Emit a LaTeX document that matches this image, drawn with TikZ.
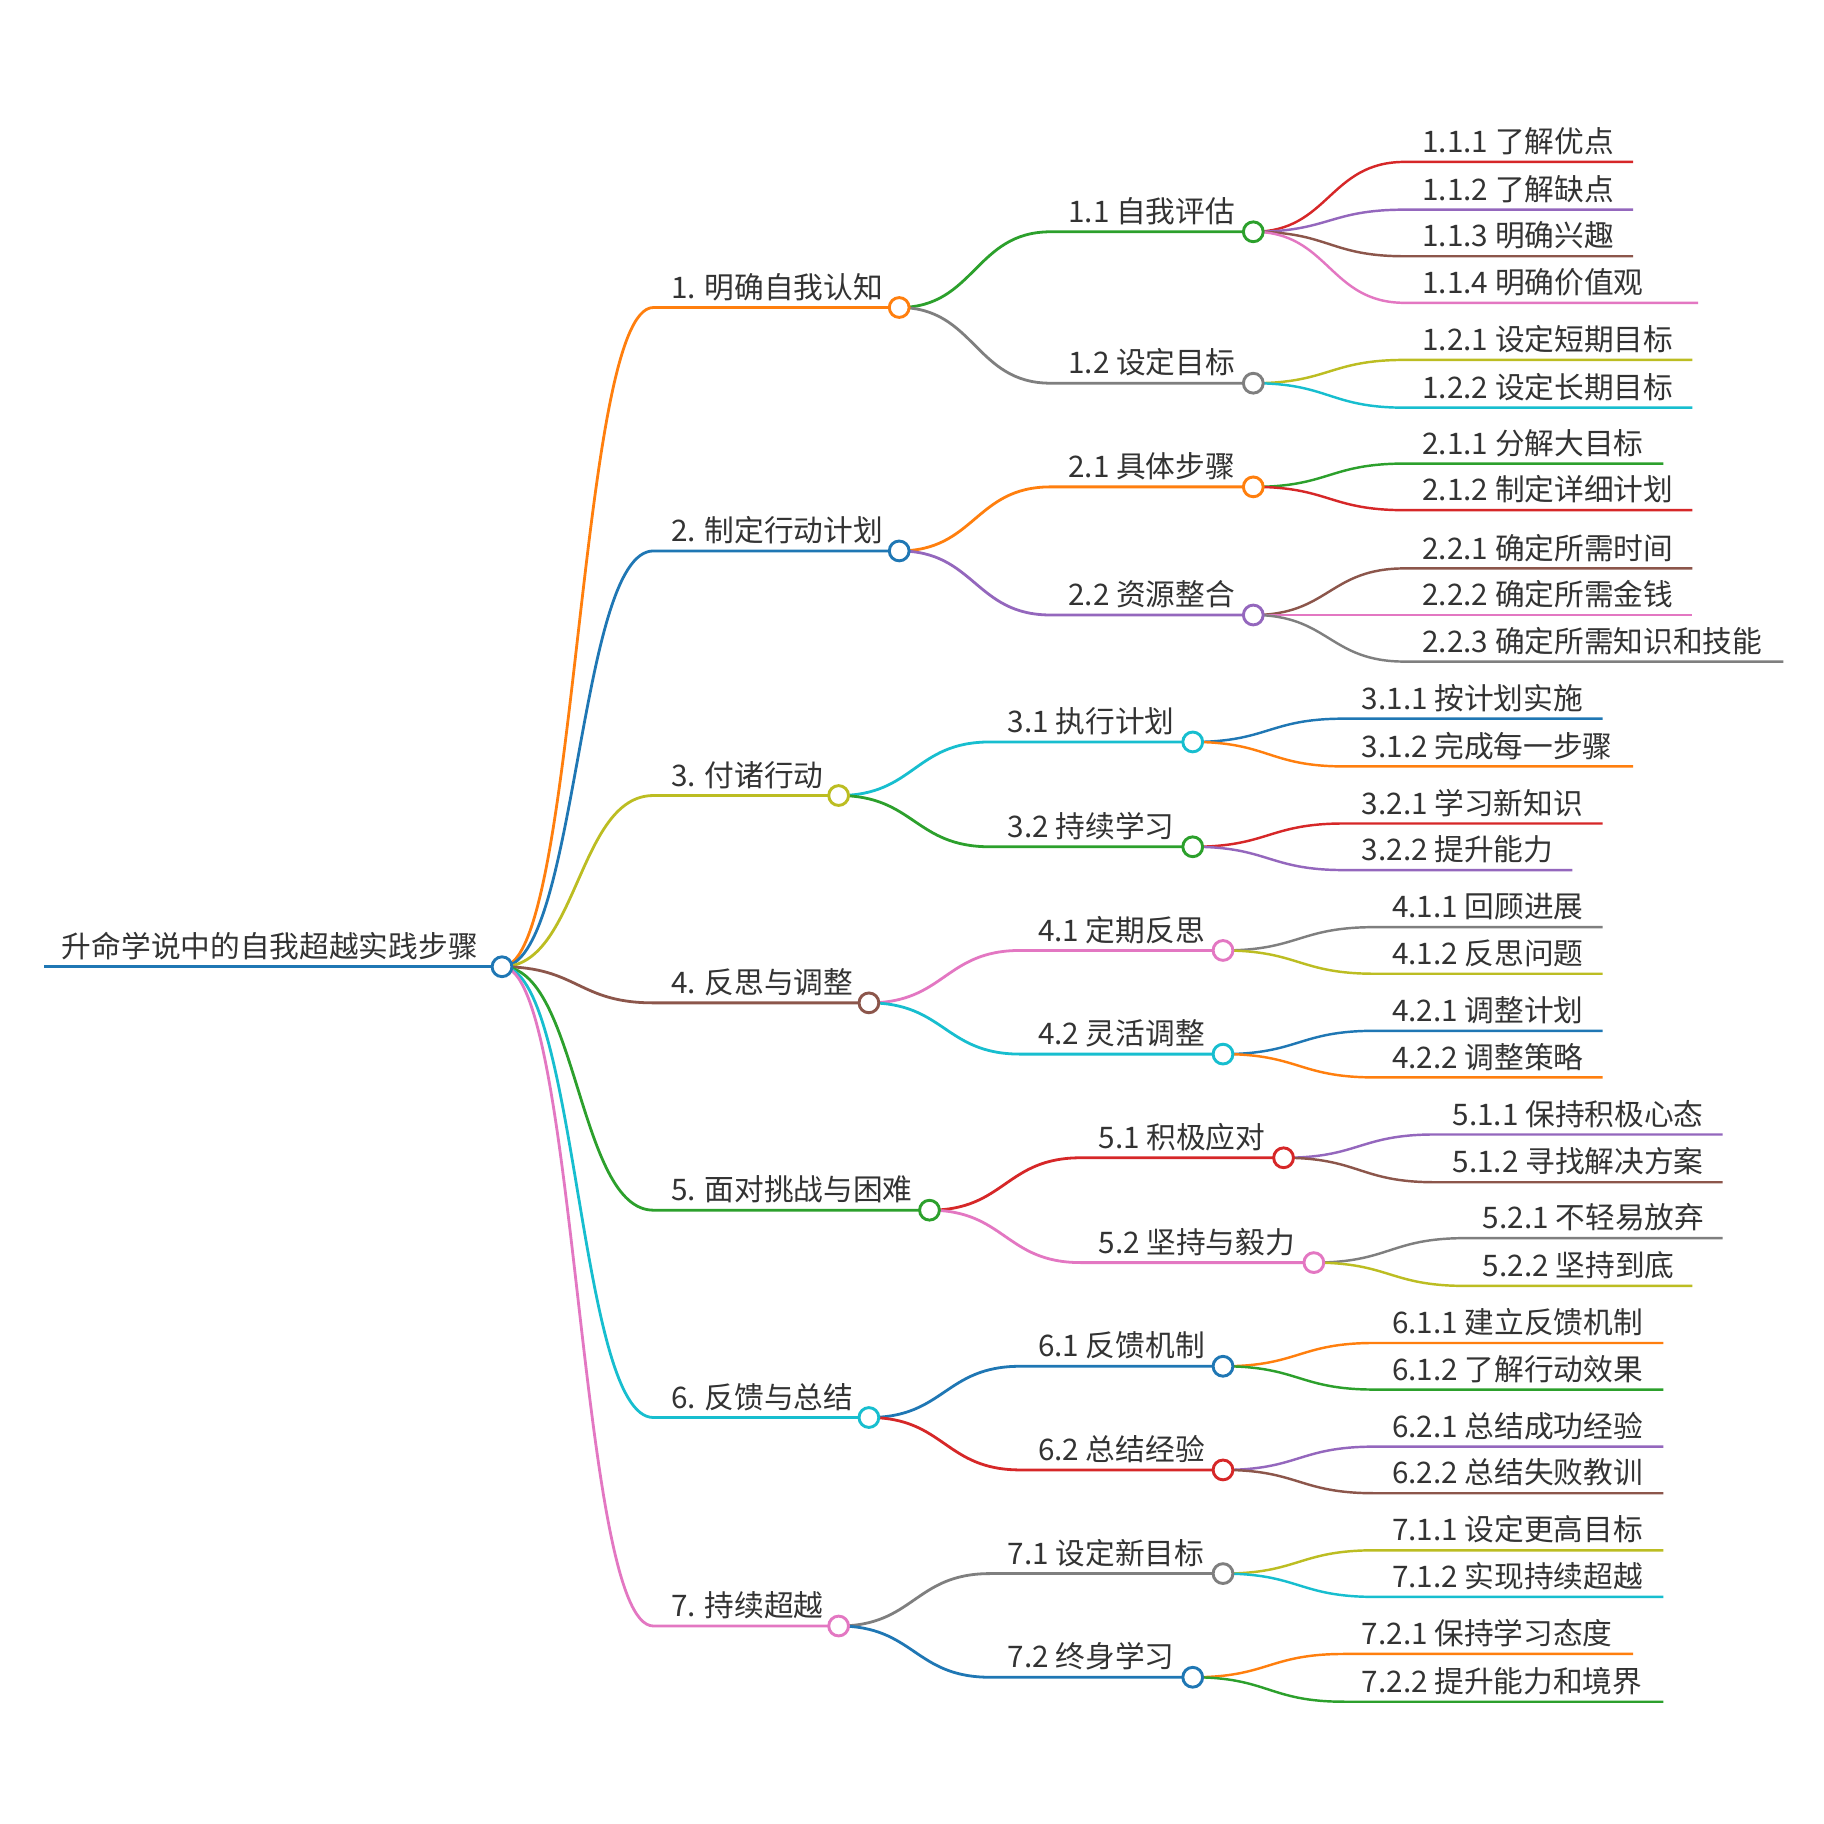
\documentclass[tikz,border=0pt]{standalone}
\usepackage{fontspec}
\setmainfont{Noto Sans CJK SC}
\usetikzlibrary{calc}
\definecolor{cB}{HTML}{1F77B4}
\definecolor{cO}{HTML}{FF7F0E}
\definecolor{cG}{HTML}{2CA02C}
\definecolor{cR}{HTML}{D62728}
\definecolor{cP}{HTML}{9467BD}
\definecolor{cN}{HTML}{8C564B}
\definecolor{cK}{HTML}{E377C2}
\definecolor{cY}{HTML}{7F7F7F}
\definecolor{cL}{HTML}{BCBD22}
\definecolor{cC}{HTML}{17BECF}
\definecolor{txtgray}{HTML}{333333}
\pgfdeclarelayer{bg}
\pgfdeclarelayer{paper}
\pgfsetlayers{paper,bg,main}
\tikzset{
  mmdot/.style={circle, inner sep=0pt, minimum size=17pt, fill=white, line width=2.5pt},
  mmlabel/.style={anchor=base west, inner sep=0pt, text=txtgray, font=\fontsize{25.5}{30}\selectfont},
  mmlink/.style={line width=2.4pt},
  mmleafline/.style={line width=2.1pt},
}
\newcommand{\mmnode}[7]{%
  \coordinate (#1s) at (#4,#5);
  \node[mmdot, draw=#3] (#1) at (#6,#5) {};
  \node[mmlabel] (#1t) at ($(#1s)+(15,-8)$) {#7};
  \coordinate (#1m) at ($(#2.center)!0.5!(#1s)$);
  \begin{pgfonlayer}{bg}
  \draw[mmlink, #3] (#2.center) .. controls (#1m |- #2.center) and (#1m |- #1s) .. (#1s) -- (#1.center);
  \end{pgfonlayer}
}
\newcommand{\mmleaf}[7]{%
  \coordinate (#1s) at (#4,#5);
  \coordinate (#1) at (#6,#5);
  \node[mmlabel] (#1t) at ($(#1s)+(15,-8)$) {#7};
  \coordinate (#1m) at ($(#2.center)!0.5!(#1s)$);
  \begin{pgfonlayer}{bg}
  \draw[mmleafline, #3] (#2.center) .. controls (#1m |- #2.center) and (#1m |- #1s) .. (#1s) -- (#1);
  \end{pgfonlayer}
}
\begin{document}
\begin{tikzpicture}[x=1pt,y=-1pt]
\useasboundingbox (0,0) rectangle (1566,1566);
\begin{pgfonlayer}{paper}
\fill[white] (0,0) rectangle (1566,1566);
\end{pgfonlayer}
% root
\coordinate (rs) at (38,830);
\node[mmdot, draw=cB] (r) at (431,830) {};
\node[mmlabel] (rt) at ($(rs)+(15,-8)$) {升命学说中的自我超越实践步骤};
\begin{pgfonlayer}{bg}
\draw[line width=2.6pt, cB] (rs) -- (r.center);
\end{pgfonlayer}
% 1
\mmnode{a}{r}{cO}{561}{264}{772}{1. 明确自我认知}
\mmnode{aa}{a}{cG}{902}{199}{1076}{1.1 自我评估}
\mmleaf{aaa}{aa}{cR}{1206}{139}{1402}{1.1.1 了解优点}
\mmleaf{aab}{aa}{cP}{1206}{180}{1402}{1.1.2 了解缺点}
\mmleaf{aac}{aa}{cN}{1206}{220}{1402}{1.1.3 明确兴趣}
\mmleaf{aad}{aa}{cK}{1206}{260}{1458}{1.1.4 明确价值观}
\mmnode{ab}{a}{cY}{902}{329}{1076}{1.2 设定目标}
\mmleaf{aba}{ab}{cL}{1206}{309}{1453}{1.2.1 设定短期目标}
\mmleaf{abb}{ab}{cC}{1206}{350}{1453}{1.2.2 设定长期目标}
% 2
\mmnode{b}{r}{cB}{561}{473}{772}{2. 制定行动计划}
\mmnode{ba}{b}{cO}{902}{418}{1076}{2.1 具体步骤}
\mmleaf{baa}{ba}{cG}{1206}{398}{1428}{2.1.1 分解大目标}
\mmleaf{bab}{ba}{cR}{1206}{438}{1453}{2.1.2 制定详细计划}
\mmnode{bb}{b}{cP}{902}{528}{1076}{2.2 资源整合}
\mmleaf{bba}{bb}{cN}{1206}{488}{1453}{2.2.1 确定所需时间}
\mmleaf{bbb}{bb}{cK}{1206}{528}{1453}{2.2.2 确定所需金钱}
\mmleaf{bbc}{bb}{cY}{1206}{568}{1531}{2.2.3 确定所需知识和技能}
% 3
\mmnode{c}{r}{cL}{561}{683}{720}{3. 付诸行动}
\mmnode{ca}{c}{cC}{850}{637}{1024}{3.1 执行计划}
\mmleaf{caa}{ca}{cB}{1154}{617}{1376}{3.1.1 按计划实施}
\mmleaf{cab}{ca}{cO}{1154}{658}{1402}{3.1.2 完成每一步骤}
\mmnode{cb}{c}{cG}{850}{727}{1024}{3.2 持续学习}
\mmleaf{cba}{cb}{cR}{1154}{707}{1376}{3.2.1 学习新知识}
\mmleaf{cbb}{cb}{cP}{1154}{747}{1350}{3.2.2 提升能力}
% 4
\mmnode{d}{r}{cN}{561}{861}{746}{4. 反思与调整}
\mmnode{da}{d}{cK}{876}{816}{1050}{4.1 定期反思}
\mmleaf{daa}{da}{cY}{1180}{796}{1376}{4.1.1 回顾进展}
\mmleaf{dab}{da}{cL}{1180}{836}{1376}{4.1.2 反思问题}
\mmnode{db}{d}{cC}{876}{905}{1050}{4.2 灵活调整}
\mmleaf{dba}{db}{cB}{1180}{885}{1376}{4.2.1 调整计划}
\mmleaf{dbb}{db}{cO}{1180}{925}{1376}{4.2.2 调整策略}
% 5
\mmnode{e}{r}{cG}{561}{1039}{798}{5. 面对挑战与困难}
\mmnode{ea}{e}{cR}{928}{994}{1102}{5.1 积极应对}
\mmleaf{eaa}{ea}{cP}{1232}{974}{1479}{5.1.1 保持积极心态}
\mmleaf{eab}{ea}{cN}{1232}{1015}{1479}{5.1.2 寻找解决方案}
\mmnode{eb}{e}{cK}{928}{1084}{1128}{5.2 坚持与毅力}
\mmleaf{eba}{eb}{cY}{1258}{1063}{1479}{5.2.1 不轻易放弃}
\mmleaf{ebb}{eb}{cL}{1258}{1104}{1453}{5.2.2 坚持到底}
% 6
\mmnode{f}{r}{cC}{561}{1217}{746}{6. 反馈与总结}
\mmnode{fa}{f}{cB}{876}{1173}{1050}{6.1 反馈机制}
\mmleaf{faa}{fa}{cO}{1180}{1153}{1428}{6.1.1 建立反馈机制}
\mmleaf{fab}{fa}{cG}{1180}{1193}{1428}{6.1.2 了解行动效果}
\mmnode{fb}{f}{cR}{876}{1262}{1050}{6.2 总结经验}
\mmleaf{fba}{fb}{cP}{1180}{1242}{1428}{6.2.1 总结成功经验}
\mmleaf{fbb}{fb}{cN}{1180}{1282}{1428}{6.2.2 总结失败教训}
% 7
\mmnode{g}{r}{cK}{561}{1396}{720}{7. 持续超越}
\mmnode{ga}{g}{cY}{850}{1351}{1050}{7.1 设定新目标}
\mmleaf{gaa}{ga}{cL}{1180}{1331}{1428}{7.1.1 设定更高目标}
\mmleaf{gab}{ga}{cC}{1180}{1371}{1428}{7.1.2 实现持续超越}
\mmnode{gb}{g}{cB}{850}{1440}{1024}{7.2 终身学习}
\mmleaf{gba}{gb}{cO}{1154}{1420}{1402}{7.2.1 保持学习态度}
\mmleaf{gbb}{gb}{cG}{1154}{1461}{1428}{7.2.2 提升能力和境界}
\end{tikzpicture}
\end{document}
